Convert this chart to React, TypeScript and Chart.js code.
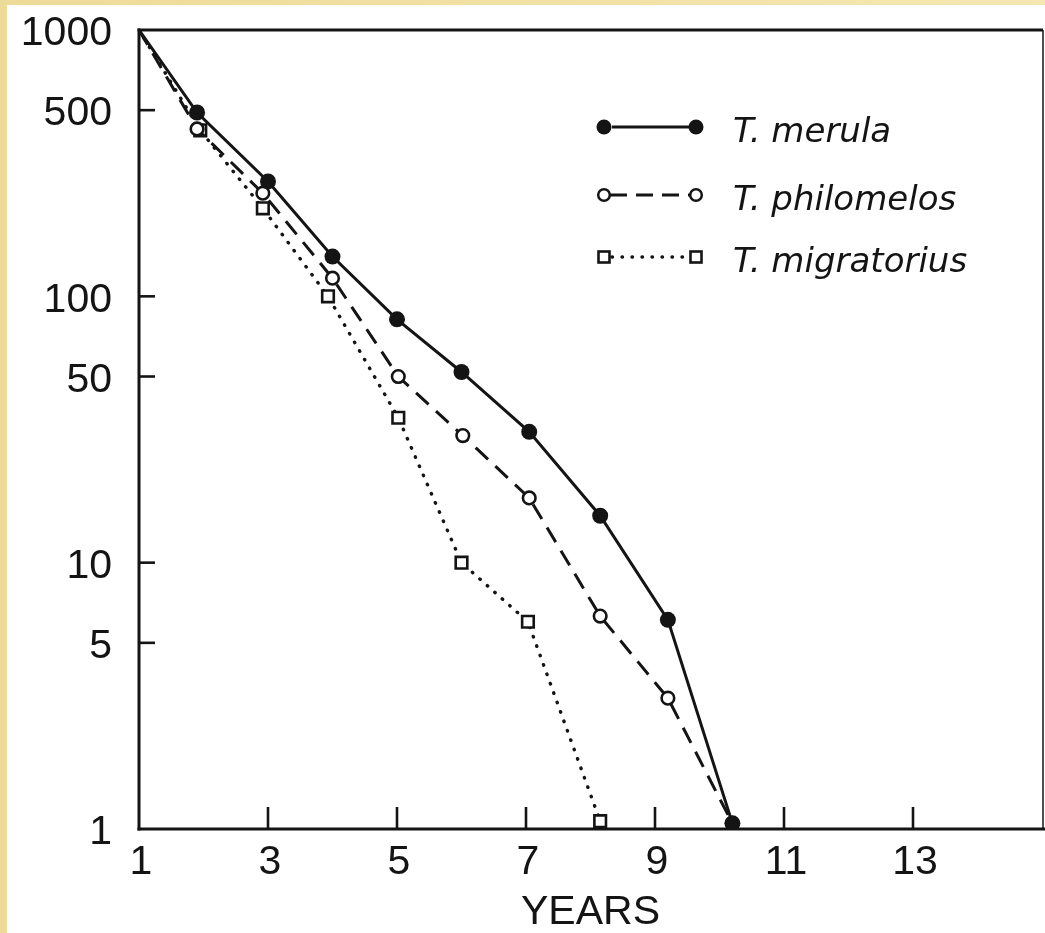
import React, { useEffect, useRef } from 'react';
import { Chart, registerables } from 'chart.js';

Chart.register(...registerables);

// ---- data ----
const xTickValues = [1, 3, 5, 7, 9, 11, 13];
const yTickValues = [1, 5, 10, 50, 100, 500, 1000];
const yInnerTicks = [5, 10, 50, 100, 500];
const xInnerTicks = [3, 5, 7, 9, 11, 13];

const seriesNames = ['T. merula', 'T. philomelos', 'T. migratorius'];

const merulaYears = [1, 1.9, 3, 4, 5, 6, 7.05, 8.15, 9.2, 10.2];
const merulaSurvivors = [1000, 490, 270, 141, 82, 52, 31, 15, 6.1, 1.05];

const philomelosYears = [1, 1.9, 2.92, 4, 5.02, 6.02, 7.05, 8.15, 9.2, 10.2];
const philomelosSurvivors = [1000, 425, 244, 117, 50, 30, 17.5, 6.3, 3.1, 1.05];

const migratoriusYears = [1, 1.95, 2.92, 3.93, 5.02, 6, 7.03, 8.15];
const migratoriusSurvivors = [1000, 420, 214, 100, 35, 10, 6, 1.07];

const INK = '#141414';

export default function App() {
  const ref = useRef<HTMLCanvasElement>(null);

  useEffect(() => {
    document.body.style.margin = '0';
    const canvas = ref.current;
    if (!canvas) return;

    const toPts = (xs: number[], ys: number[]) => xs.map((x, i) => ({ x, y: ys[i] }));
    const radii = (n: number, r: number) => Array.from({ length: n }, (_, i) => (i === 0 ? 0 : r));

    const paper = {
      id: 'paper',
      beforeDraw(chart: any) {
        const ctx = chart.ctx;
        ctx.save();
        ctx.fillStyle = '#ffffff';
        ctx.fillRect(7, 5, chart.width - 7, chart.height - 5);
        ctx.restore();
      },
    };

    const frame = {
      id: 'frame',
      afterDatasetsDraw(chart: any) {
        const ctx = chart.ctx;
        const { left, right, top, bottom } = chart.chartArea;
        const xs = chart.scales.x;
        const ys = chart.scales.y;
        ctx.save();
        ctx.strokeStyle = INK;
        ctx.lineCap = 'butt';
        // left axis
        ctx.lineWidth = 3;
        ctx.beginPath();
        ctx.moveTo(left, top - 1.5);
        ctx.lineTo(left, bottom + 1.5);
        ctx.stroke();
        // bottom axis
        ctx.beginPath();
        ctx.moveTo(left - 1.5, bottom);
        ctx.lineTo(chart.width, bottom);
        ctx.stroke();
        // top border
        ctx.lineWidth = 2.8;
        ctx.beginPath();
        ctx.moveTo(left - 1.5, top);
        ctx.lineTo(right + 1, top);
        ctx.stroke();
        // right border
        ctx.lineWidth = 1.5;
        ctx.beginPath();
        ctx.moveTo(right + 1, top);
        ctx.lineTo(right + 1, bottom);
        ctx.stroke();
        // inner ticks
        ctx.lineWidth = 2.6;
        yInnerTicks.forEach((v) => {
          const py = ys.getPixelForValue(v);
          ctx.beginPath();
          ctx.moveTo(left, py);
          ctx.lineTo(left + 16, py);
          ctx.stroke();
        });
        xInnerTicks.forEach((v) => {
          const px = xs.getPixelForValue(v);
          ctx.beginPath();
          ctx.moveTo(px, bottom);
          ctx.lineTo(px, bottom - 22);
          ctx.stroke();
        });
        ctx.restore();
      },
    };

    const legendBox = {
      id: 'legendBox',
      afterDraw(chart: any) {
        const ctx = chart.ctx;
        const rows = [127, 195, 257];
        const x0 = 604;
        const x1 = 696;
        ctx.save();
        ctx.strokeStyle = INK;
        ctx.fillStyle = INK;
        rows.forEach((y, i) => {
          ctx.lineWidth = i === 2 ? 3.4 : 3;
          if (i === 0) { ctx.setLineDash([]); ctx.lineCap = 'butt'; }
          if (i === 1) { ctx.setLineDash([17, 9]); ctx.lineCap = 'butt'; }
          if (i === 2) { ctx.setLineDash([0.5, 9.5]); ctx.lineCap = 'round'; }
          ctx.beginPath();
          ctx.moveTo(x0 + (i === 1 ? 6 : 8), y);
          ctx.lineTo(x1 - 6, y);
          ctx.stroke();
          ctx.setLineDash([]);
          ctx.lineCap = 'butt';
          [x0, x1].forEach((mx) => {
            if (i === 0) {
              ctx.beginPath();
              ctx.arc(mx, y, 7.5, 0, Math.PI * 2);
              ctx.fill();
            } else if (i === 1) {
              ctx.beginPath();
              ctx.fillStyle = '#fff';
              ctx.arc(mx, y, 5.8, 0, Math.PI * 2);
              ctx.fill();
              ctx.lineWidth = 2.5;
              ctx.stroke();
              ctx.fillStyle = INK;
            } else {
              ctx.fillStyle = '#fff';
              ctx.fillRect(mx - 5.5, y - 5.5, 11, 11);
              ctx.lineWidth = 2.6;
              ctx.strokeRect(mx - 5.5, y - 5.5, 11, 11);
              ctx.fillStyle = INK;
            }
          });
          ctx.font = 'oblique 34px "DejaVu Sans"';
          ctx.textAlign = 'left';
          ctx.textBaseline = 'alphabetic';
          ctx.fillText(seriesNames[i], 733, y + 15);
        });
        ctx.restore();
      },
    };

    const chart = new Chart(canvas, {
      type: 'scatter',
      data: {
        datasets: [
          {
            label: seriesNames[0],
            data: toPts(merulaYears, merulaSurvivors),
            showLine: true,
            borderColor: INK,
            borderWidth: 3,
            pointStyle: 'circle',
            pointRadius: radii(merulaYears.length, 8),
            pointBackgroundColor: INK,
            pointBorderColor: INK,
            pointBorderWidth: 0,
          },
          {
            label: seriesNames[1],
            data: toPts(philomelosYears, philomelosSurvivors),
            showLine: true,
            borderColor: INK,
            borderWidth: 3,
            borderDash: [17, 10],
            pointStyle: 'circle',
            pointRadius: radii(philomelosYears.length, 6.3),
            pointBackgroundColor: '#ffffff',
            pointBorderColor: INK,
            pointBorderWidth: 2.6,
          },
          {
            label: seriesNames[2],
            data: toPts(migratoriusYears, migratoriusSurvivors),
            showLine: true,
            borderColor: INK,
            borderWidth: 3.4,
            borderDash: [0.5, 9.5],
            borderCapStyle: 'round',
            pointStyle: 'rect',
            pointRadius: radii(migratoriusYears.length, 8.2),
            pointBackgroundColor: '#ffffff',
            pointBorderColor: INK,
            pointBorderWidth: 2.6,
          },
        ],
      } as any,
      options: {
        responsive: false,
        animation: false,
        devicePixelRatio: 1,
        layout: { autoPadding: false, padding: { top: 30, right: 3, bottom: 0, left: 0 } },
        plugins: {
          legend: { display: false },
          tooltip: { enabled: false },
        },
        elements: { line: { tension: 0 } },
        scales: {
          x: {
            type: 'linear',
            min: 1,
            max: 15,
            afterBuildTicks: (s: any) => {
              s.ticks = xTickValues.map((value) => ({ value }));
            },
            afterFit: (s: any) => {
              s.height = 104;
              s.paddingLeft = 0;
              s.paddingRight = 0;
              s.paddingTop = 0;
              s.paddingBottom = 0;
            },
            grid: { display: false, drawTicks: false },
            border: { display: false },
            ticks: {
              color: INK,
              font: { family: 'Liberation Sans', size: 41 },
              padding: 9,
              labelOffset: 2,
              autoSkip: false,
              maxRotation: 0,
              callback: (v: any) => String(v),
            },
            title: {
              display: true,
              text: 'YEARS',
              color: INK,
              font: { family: 'Liberation Sans', size: 41, lineHeight: 1 },
              padding: { top: 0, bottom: 0 },
            },
          },
          y: {
            type: 'logarithmic',
            min: 1,
            max: 1000,
            afterBuildTicks: (s: any) => {
              s.ticks = yTickValues.map((value) => ({ value }));
            },
            afterFit: (s: any) => {
              s.width = 139;
              s.paddingLeft = 0;
              s.paddingRight = 0;
              s.paddingTop = 0;
              s.paddingBottom = 0;
            },
            grid: { display: false, drawTicks: false },
            border: { display: false },
            ticks: {
              color: INK,
              font: { family: 'Liberation Sans', size: 41 },
              padding: 27,
              labelOffset: 4,
              autoSkip: false,
              callback: (v: any) => String(v),
            },
          },
        },
      } as any,
      plugins: [paper, frame, legendBox],
    });

    return () => chart.destroy();
  }, []);

  return (
    <div
      style={{
        position: 'relative',
        width: 1045,
        height: 933,
        overflow: 'hidden',
        background: 'linear-gradient(90deg, #efdb98 0%, #f5e6b2 100%)',
      }}
    >
      <canvas ref={ref} width={1045} height={933} style={{ display: 'block' }} />
    </div>
  );
}
